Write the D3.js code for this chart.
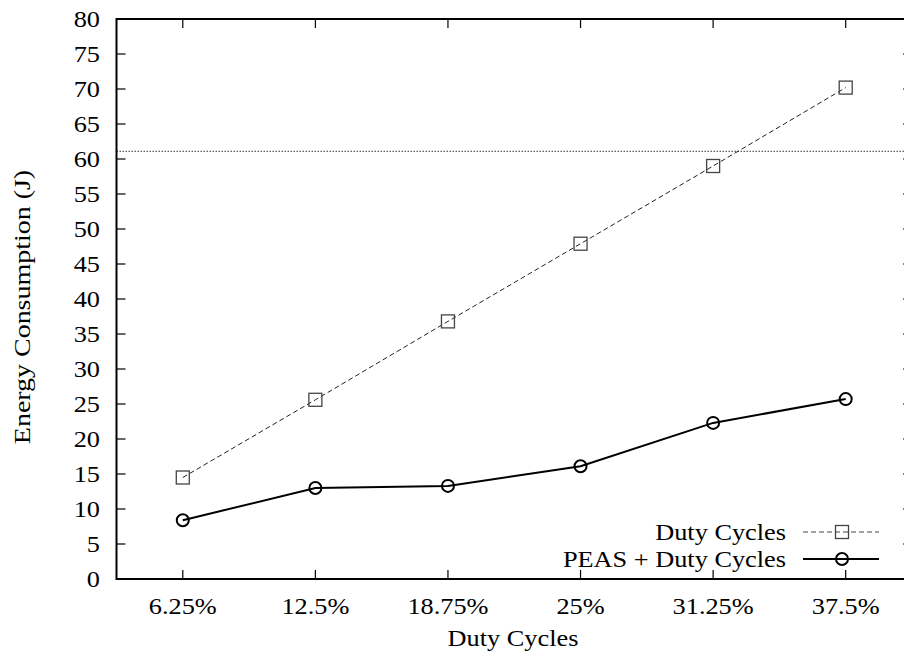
<!DOCTYPE html>
<html><head><meta charset="utf-8">
<script src="https://cdn.jsdelivr.net/npm/d3@7"></script>
<style>
html,body{margin:0;padding:0;background:#fff;}
svg{display:block;}
text{font-family:"Liberation Serif","Times New Roman",serif;fill:#000;}
</style></head>
<body>
<svg id="chart" width="904" height="660"></svg>
<script>
const categories = ["6.25%","12.5%","18.75%","25%","31.25%","37.5%"];
const dutyCycles = [14.5, 25.6, 36.8, 47.9, 59.0, 70.2];
const peasDuty = [8.4, 13.0, 13.3, 16.1, 22.3, 25.7];
const yTicks = [0,5,10,15,20,25,30,35,40,45,50,55,60,65,70,75,80];
const refLine = 61.1;
const seriesNames = ["Duty Cycles","PEAS + Duty Cycles"];

const svg = d3.select("#chart");
const L = 116.5, R = 912, T = 19, B = 579;
const FS = 22.5, SX = 1.17;

const x = d3.scalePoint().domain(categories).range([L, R]).padding(0.5);
const y = d3.scaleLinear().domain([0, 80]).range([B, T]);

function label(parent, tx, ty, str, anchor, dy) {
  return parent.append("text")
    .attr("transform", "translate(" + tx + "," + ty + ") scale(" + SX + ",1)")
    .attr("text-anchor", anchor).attr("dy", dy || null)
    .attr("font-size", FS).text(str);
}

const g = svg.append("g");
yTicks.forEach(v => {
  g.append("line").attr("x1", L).attr("x2", L + 9).attr("y1", y(v)).attr("y2", y(v))
    .attr("stroke", "#000").attr("stroke-width", 1.2);
  g.append("line").attr("x1", R - 9).attr("x2", R).attr("y1", y(v)).attr("y2", y(v))
    .attr("stroke", "#000").attr("stroke-width", 1.2);
  label(g, 100, y(v), v, "end", "0.35em");
});
categories.forEach(c => {
  g.append("line").attr("x1", x(c)).attr("x2", x(c)).attr("y1", B).attr("y2", B - 9)
    .attr("stroke", "#000").attr("stroke-width", 1.2);
  g.append("line").attr("x1", x(c)).attr("x2", x(c)).attr("y1", T).attr("y2", T + 9)
    .attr("stroke", "#000").attr("stroke-width", 1.2);
  label(g, x(c), 614, c, "middle");
});

svg.append("line").attr("x1", L).attr("x2", R).attr("y1", y(refLine)).attr("y2", y(refLine))
  .attr("stroke", "#000").attr("stroke-width", 0.8).attr("stroke-dasharray", "1.5,1.5");

const line = d3.line().x((d, i) => x(categories[i])).y(d => y(d));
svg.append("path").datum(dutyCycles).attr("d", line).attr("fill", "none")
  .attr("stroke", "#222").attr("stroke-width", 1).attr("stroke-dasharray", "5,3");
svg.append("path").datum(peasDuty).attr("d", line).attr("fill", "none")
  .attr("stroke", "#000").attr("stroke-width", 2);

svg.selectAll(".sq").data(dutyCycles).enter().append("rect")
  .attr("x", (d, i) => x(categories[i]) - 6.5).attr("y", d => y(d) - 6.5)
  .attr("width", 13).attr("height", 13).attr("fill", "none")
  .attr("stroke", "#444").attr("stroke-width", 1.3);
svg.selectAll(".ci").data(peasDuty).enter().append("circle")
  .attr("cx", (d, i) => x(categories[i])).attr("cy", d => y(d)).attr("r", 6)
  .attr("fill", "none").attr("stroke", "#000").attr("stroke-width", 2);

svg.append("rect").attr("x", L).attr("y", T).attr("width", R - L).attr("height", B - T)
  .attr("fill", "none").attr("stroke", "#000").attr("stroke-width", 2);

label(svg, 513, 646, "Duty Cycles", "middle");
svg.append("text").attr("transform", "translate(30,307) rotate(-90) scale(1.19,1)")
  .attr("text-anchor", "middle").attr("font-size", 23.5).text("Energy Consumption (J)");

const lg = svg.append("g");
const ly = [532, 559];
label(lg, 786, ly[0], seriesNames[0], "end", "0.35em");
label(lg, 786, ly[1], seriesNames[1], "end", "0.35em");
lg.append("line").attr("x1", 803).attr("x2", 879).attr("y1", ly[0]).attr("y2", ly[0])
  .attr("stroke", "#444").attr("stroke-width", 1).attr("stroke-dasharray", "5,3");
lg.append("rect").attr("x", 842 - 6.5).attr("y", ly[0] - 6.5).attr("width", 13).attr("height", 13)
  .attr("fill", "none").attr("stroke", "#444").attr("stroke-width", 1.3);
lg.append("line").attr("x1", 803).attr("x2", 879).attr("y1", ly[1]).attr("y2", ly[1])
  .attr("stroke", "#000").attr("stroke-width", 2);
lg.append("circle").attr("cx", 842).attr("cy", ly[1]).attr("r", 6)
  .attr("fill", "none").attr("stroke", "#000").attr("stroke-width", 2);
</script>
</body></html>
